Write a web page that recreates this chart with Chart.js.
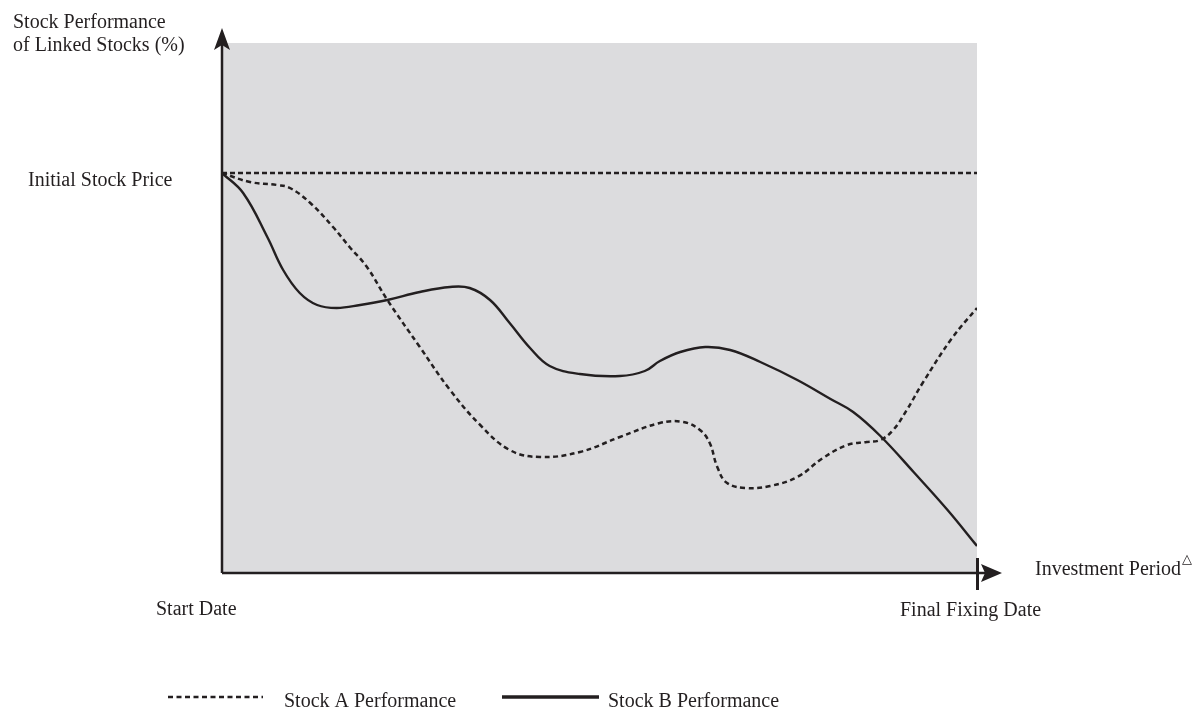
<!DOCTYPE html>
<html>
<head>
<meta charset="utf-8">
<script src="https://cdn.jsdelivr.net/npm/chart.js@4/dist/chart.umd.min.js"></script>
<style>
  html, body { margin: 0; background: #fff; }
</style>
</head>
<body>
<canvas id="chartCanvas" width="1196" height="709"></canvas>
<script>
// x = share of the investment period (0 = start date, 100 = final fixing date)
// y = stock level, initial stock price = 100
const initialPrice = 100;

const stockAX = [0, 3.7, 7.3, 9.0, 11.7, 14.7, 16.9, 19.2, 21.9, 26.2, 30.2, 34.2, 38.1, 42.1, 47.4, 52.7, 58.0, 61.1,
  63.3, 64.6, 65.6, 66.9, 69.5, 72.6, 76.2, 79.6, 82.8, 85.4, 87.2, 88.9, 90.7, 92.8, 96.7, 100];
const stockAY = [100, 97.75, 97, 96.25, 92.5, 86.5, 81.5, 76.5, 68.25, 56.5, 45.75, 37, 30.75, 29, 30.25, 34, 37.5, 37.75,
  35.75, 32.5, 26.5, 22.5, 21.25, 21.75, 24, 28.75, 32, 32.75, 33.25, 35.75, 40.75, 47.5, 58.75, 66.25];

const stockBX = [0, 2.8, 6.0, 8.1, 10.3, 12.6, 15.2, 18.3, 21.9, 26.2, 30.2, 32.8, 35.5, 38.1, 40.8, 43.4, 47.4, 52.7,
  56.0, 58.0, 60.7, 64.0, 67.3, 71.3, 76.2, 80.6, 83.6, 87.2, 91.6, 96.1, 100];
const stockBY = [100, 95, 84, 75.75, 70, 67, 66.25, 67, 68.25, 70.25, 71.5, 71.25, 68.25, 62.5, 56.25, 51.75, 49.75, 49.25,
  50.5, 53, 55.25, 56.5, 55.75, 52.75, 48.25, 43.5, 40.25, 34.25, 25.25, 15.75, 6.75];

const seriesLabels = ['Stock A Performance', 'Stock B Performance'];
const yAxisTitle = ['Stock Performance', 'of Linked Stocks (%)'];
const levelLabel = 'Initial Stock Price';
const xAxisTitle = 'Investment Period';
const startLabel = 'Start Date';
const endLabel = 'Final Fixing Date';

const ink = '#231f20';
const serif = '"Liberation Serif", "Times New Roman", serif';

const toPoints = (xs, ys) => xs.map((x, i) => ({ x: x, y: ys[i] }));

const overlay = {
  id: 'overlay',
  beforeDatasetsDraw(chart) {
    const { ctx, chartArea: a } = chart;
    ctx.save();
    ctx.fillStyle = '#dcdcde';
    ctx.fillRect(a.left, a.top, a.right - a.left, a.bottom - a.top);
    ctx.restore();
  },
  afterDraw(chart) {
    const { ctx } = chart;
    const xs = chart.scales.x;
    const ys = chart.scales.y;
    const x0 = xs.getPixelForValue(0);
    const x1 = xs.getPixelForValue(100);
    const yb = ys.getPixelForValue(0);
    const yLevel = ys.getPixelForValue(initialPrice);

    ctx.save();
    ctx.strokeStyle = ink;
    ctx.fillStyle = ink;
    ctx.lineWidth = 2.5;

    // y axis with arrow
    ctx.beginPath();
    ctx.moveTo(x0, yb);
    ctx.lineTo(x0, 40);
    ctx.stroke();
    ctx.beginPath();
    ctx.moveTo(x0, 28);
    ctx.lineTo(x0 - 8, 50);
    ctx.lineTo(x0, 45);
    ctx.lineTo(x0 + 8, 50);
    ctx.closePath();
    ctx.fill();

    // x axis with arrow
    ctx.beginPath();
    ctx.moveTo(x0, yb);
    ctx.lineTo(992, yb);
    ctx.stroke();
    ctx.beginPath();
    ctx.moveTo(1002, yb);
    ctx.lineTo(981, yb - 9);
    ctx.lineTo(985, yb);
    ctx.lineTo(981, yb + 9);
    ctx.closePath();
    ctx.fill();

    // final fixing date tick
    ctx.lineWidth = 3;
    ctx.beginPath();
    ctx.moveTo(x1 + 0.5, yb - 15);
    ctx.lineTo(x1 + 0.5, yb + 17);
    ctx.stroke();

    // texts
    ctx.font = '20px ' + serif;
    ctx.textBaseline = 'alphabetic';
    ctx.textAlign = 'left';
    ctx.fillText(yAxisTitle[0], 13, 28);
    ctx.fillText(yAxisTitle[1], 13, 51);
    ctx.fillText(levelLabel, 28, yLevel + 13);
    ctx.fillText(startLabel, 156, 615);
    ctx.fillText(endLabel, 900, 616);
    ctx.fillText(xAxisTitle, 1035, 575);
    ctx.font = '13px "DejaVu Sans", sans-serif';
    ctx.fillText('\u25B3', 1182, 563);

    // legend
    const legendLine = [[168, 263], [502, 599]];
    const legendText = [284, 608];
    const legendY = 697;
    chart.data.datasets.forEach((ds) => {
      if (!ds.label) return;
      const k = seriesLabels.indexOf(ds.label);
      ctx.setLineDash(ds.borderDash || []);
      ctx.lineWidth = ds.borderDash ? 2.5 : 3.5;
      ctx.beginPath();
      ctx.moveTo(legendLine[k][0], legendY);
      ctx.lineTo(legendLine[k][1], legendY);
      ctx.stroke();
      ctx.setLineDash([]);
      ctx.font = '20px ' + serif;
      ctx.fillText(ds.label, legendText[k], 707);
    });
    ctx.restore();
  }
};

const chartContainer = document.getElementById('chartCanvas');

const myChart = new Chart(chartContainer, {
  type: 'line',
  data: {
    datasets: [
      {
        label: '',
        data: [{ x: 0, y: initialPrice }, { x: 100, y: initialPrice }],
        borderColor: ink,
        borderWidth: 2.3,
        borderDash: [5, 3],
        pointRadius: 0,
        tension: 0,
      },
      {
        label: seriesLabels[0],
        data: toPoints(stockAX, stockAY),
        borderColor: ink,
        borderWidth: 2.5,
        borderDash: [5, 3.5],
        pointRadius: 0,
        tension: 0.4,
      },
      {
        label: seriesLabels[1],
        data: toPoints(stockBX, stockBY),
        borderColor: ink,
        borderWidth: 2.4,
        pointRadius: 0,
        tension: 0.4,
      },
    ],
  },
  options: {
    responsive: false,
    animation: false,
    devicePixelRatio: 1,
    layout: { padding: { left: 222, right: 219, top: 43, bottom: 136 } },
    scales: {
      x: { type: 'linear', min: 0, max: 100, display: false },
      y: { type: 'linear', min: 0, max: 132.5, display: false },
    },
    plugins: {
      legend: { display: false },
      tooltip: { enabled: false },
    },
  },
  plugins: [overlay],
});
</script>
</body>
</html>
